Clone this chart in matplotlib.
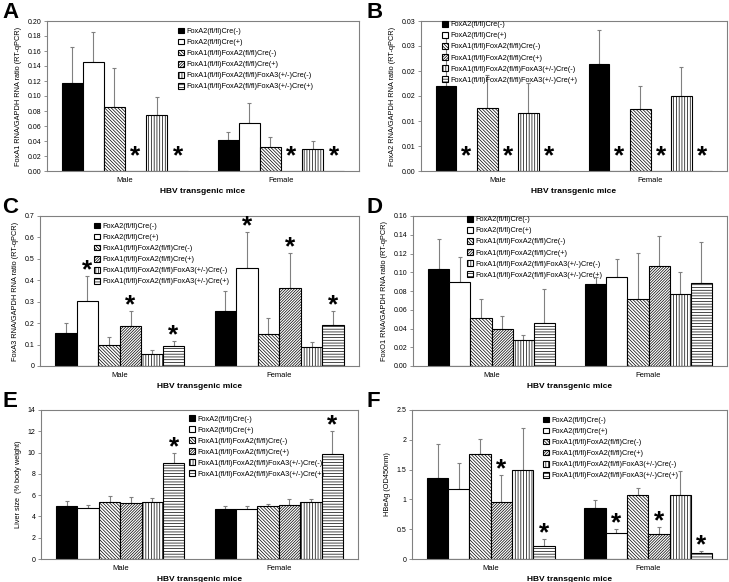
import matplotlib.pyplot as plt
import numpy as np

plt.rcParams['font.family'] = ['Liberation Sans', 'DejaVu Sans']
plt.rcParams['hatch.linewidth'] = 0.5

# categories and legend entries
groups = ['Male', 'Female']
genotypes = ['FoxA2(fl/fl)Cre(-)', 'FoxA2(fl/fl)Cre(+)',
             'FoxA1(fl/fl)FoxA2(fl/fl)Cre(-)', 'FoxA1(fl/fl)FoxA2(fl/fl)Cre(+)',
             'FoxA1(fl/fl)FoxA2(fl/fl)FoxA3(+/-)Cre(-)', 'FoxA1(fl/fl)FoxA2(fl/fl)FoxA3(+/-)Cre(+)']

# A: FoxA1 RNA
foxa1_male = [0.118, 0.145, 0.086, 0.0, 0.0745, 0.0]
foxa1_male_sd = [0.047, 0.041, 0.052, 0.0, 0.024, 0.0]
foxa1_female = [0.042, 0.064, 0.032, 0.0, 0.030, 0.0]
foxa1_female_sd = [0.0095, 0.027, 0.013, 0.0, 0.010, 0.0]
foxa1_sig = [[3, 5], [3, 5]]

# B: FoxA2 RNA
foxa2_male = [0.0170, 0.0, 0.0126, 0.0, 0.0116, 0.0]
foxa2_male_sd = [0.0096, 0.0, 0.0066, 0.0, 0.0061, 0.0]
foxa2_female = [0.0215, 0.0, 0.0125, 0.0, 0.0150, 0.0]
foxa2_female_sd = [0.0068, 0.0, 0.0045, 0.0, 0.0059, 0.0]
foxa2_sig = [[1, 3, 5], [1, 3, 5]]

# C: FoxA3 RNA
foxa3_male = [0.154, 0.303, 0.096, 0.185, 0.054, 0.093]
foxa3_male_sd = [0.046, 0.116, 0.041, 0.073, 0.0205, 0.023]
foxa3_female = [0.258, 0.456, 0.148, 0.363, 0.087, 0.191]
foxa3_female_sd = [0.093, 0.171, 0.075, 0.163, 0.023, 0.066]
foxa3_sig = [[1, 3, 5], [1, 3, 5]]

# D: FoxO1 RNA
foxo1_male = [0.1032, 0.0897, 0.0507, 0.0394, 0.0277, 0.0454]
foxo1_male_sd = [0.0326, 0.027, 0.0213, 0.0138, 0.0053, 0.0366]
foxo1_female = [0.0872, 0.0954, 0.0716, 0.107, 0.0766, 0.089]
foxo1_female_sd = [0.0078, 0.0191, 0.0494, 0.032, 0.0234, 0.0436]
foxo1_sig = [[], []]

# E: liver size
liver_male = [4.97, 4.78, 5.34, 5.28, 5.31, 9.0]
liver_male_sd = [0.5, 0.28, 0.6, 0.53, 0.41, 1.0]
liver_female = [4.66, 4.66, 4.94, 5.09, 5.31, 9.88]
liver_female_sd = [0.34, 0.31, 0.22, 0.57, 0.35, 2.12]
liver_sig = [[5], [5]]

# F: HBeAg
hbeag_male = [1.364, 1.169, 1.757, 0.951, 1.488, 0.223]
hbeag_male_sd = [0.56, 0.447, 0.253, 0.459, 0.712, 0.113]
hbeag_female = [0.854, 0.435, 1.066, 0.413, 1.077, 0.095]
hbeag_female_sd = [0.139, 0.067, 0.128, 0.117, 0.402, 0.045]
hbeag_sig = [[3, 5], [1, 3, 5]]

# y ticks
foxa1_ticks = [0.00, 0.02, 0.04, 0.06, 0.08, 0.10, 0.12, 0.14, 0.16, 0.18, 0.20]
foxa1_labels = ['0.00', '0.02', '0.04', '0.06', '0.08', '0.10', '0.12', '0.14', '0.16', '0.18', '0.20']
foxa2_ticks = [0.0, 0.005, 0.010, 0.015, 0.020, 0.025, 0.030]
foxa2_labels = ['0.00', '0.01', '0.01', '0.02', '0.02', '0.03', '0.03']
foxa3_ticks = [0.0, 0.1, 0.2, 0.3, 0.4, 0.5, 0.6, 0.7]
foxa3_labels = ['0', '0.1', '0.2', '0.3', '0.4', '0.5', '0.6', '0.7']
foxo1_ticks = [0.00, 0.02, 0.04, 0.06, 0.08, 0.10, 0.12, 0.14, 0.16]
foxo1_labels = ['0.00', '0.02', '0.04', '0.06', '0.08', '0.10', '0.12', '0.14', '0.16']
liver_ticks = [0, 2, 4, 6, 8, 10, 12, 14]
liver_labels = ['0', '2', '4', '6', '8', '10', '12', '14']
hbeag_ticks = [0, 0.5, 1.0, 1.5, 2.0, 2.5]
hbeag_labels = ['0', '0.5', '1', '1.5', '2', '2.5']

# bar styles
face = ['black', 'white', 'white', 'white', 'white', 'white']
hatches = [None, None, '\\' * 10, '/' * 12, '|' * 6, '-' * 6]

W, H = 729, 582
fig = plt.figure(figsize=(W / 100, H / 100), dpi=100)

panels = [
    ('A', (47, 21, 359, 171), [foxa1_male, foxa1_female], [foxa1_male_sd, foxa1_female_sd], foxa1_sig,
     foxa1_ticks, foxa1_labels, 'FoxA1 RNA/GAPDH RNA ratio (RT-qPCR)', (0.42, 0.955)),
    ('B', (421, 21, 727, 171), [foxa2_male, foxa2_female], [foxa2_male_sd, foxa2_female_sd], foxa2_sig,
     foxa2_ticks, foxa2_labels, 'FoxA2 RNA/GAPDH RNA ratio (RT-qPCR)', (0.07, 1.0)),
    ('C', (40, 216, 359, 366), [foxa3_male, foxa3_female], [foxa3_male_sd, foxa3_female_sd], foxa3_sig,
     foxa3_ticks, foxa3_labels, 'FoxA3 RNA/GAPDH RNA ratio (RT-qPCR)', (0.169, 0.955)),
    ('D', (413, 216, 727, 366), [foxo1_male, foxo1_female], [foxo1_male_sd, foxo1_female_sd], foxo1_sig,
     foxo1_ticks, foxo1_labels, 'FoxO1 RNA/GAPDH RNA ratio (RT-qPCR)', (0.172, 1.0)),
    ('E', (41, 410, 358, 559), [liver_male, liver_female], [liver_male_sd, liver_female_sd], liver_sig,
     liver_ticks, liver_labels, 'Liver size  (% body weight)', (0.467, 0.965)),
    ('F', (412, 410, 727, 559), [hbeag_male, hbeag_female], [hbeag_male_sd, hbeag_female_sd], hbeag_sig,
     hbeag_ticks, hbeag_labels, 'HBeAg (OD450nm)', (0.416, 0.955)),
]

bw = 0.135
grey = '#808080'

for letter, (l, t, r, b), means, sds, sig, ticks, tlabels, ylab, leg_xy in panels:
    ax = fig.add_axes([l / W, 1 - b / H, (r - l) / W, (b - t) / H])
    for g in range(len(groups)):
        for k in range(len(genotypes)):
            x = g + (k - 2.5) * bw
            m = means[g][k]
            s = sds[g][k]
            ax.bar(x, m, width=bw, color=face[k], edgecolor='black', linewidth=0.8,
                   hatch=hatches[k], label=genotypes[k] if g == 0 else None, zorder=2)
            if s > 0:
                ax.errorbar(x, m, yerr=[[0], [s]], fmt='none', ecolor=grey, elinewidth=0.8,
                            capsize=1.5, capthick=0.8, zorder=1)
            # significance asterisks
            if k in sig[g]:
                if m == 0:
                    ax.annotate('*', xy=(x, 0), xytext=(0, 5.5), textcoords='offset points',
                                ha='center', va='baseline', fontsize=19, fontweight='bold')
                else:
                    ax.annotate('*', xy=(x, m + s), xytext=(0, -1.0), textcoords='offset points',
                                ha='center', va='baseline', fontsize=19, fontweight='bold')
    ax.set_xlim(-0.5, 1.5)
    ax.set_ylim(ticks[0], ticks[-1])
    ax.set_yticks(ticks)
    ax.set_yticklabels(tlabels)
    ax.set_xticks([0, 1])
    ax.set_xticklabels(groups)
    ax.tick_params(axis='y', labelsize=5, length=2, width=0.6, color=grey, pad=2)
    ax.tick_params(axis='x', labelsize=5.5, length=0, pad=4)
    for sp in ax.spines.values():
        sp.set_color(grey)
        sp.set_linewidth(0.8)
    ax.set_ylabel(ylab, fontsize=5.3, labelpad=4)
    ax.set_xlabel('HBV transgenic mice', fontsize=6, fontweight='bold', labelpad=3)
    ax.legend(loc='upper left', bbox_to_anchor=leg_xy, frameon=False, fontsize=5.3,
              handlelength=0.8, handleheight=0.8, handletextpad=0.3, labelspacing=0.5,
              borderpad=0, borderaxespad=0)
    lx = 2 if letter in 'ACE' else 367
    fig.text(lx / W, 1 - (t - 19) / H, letter, fontsize=16, fontweight='bold', ha='left', va='top')

fig.savefig('out.png', dpi=100)
